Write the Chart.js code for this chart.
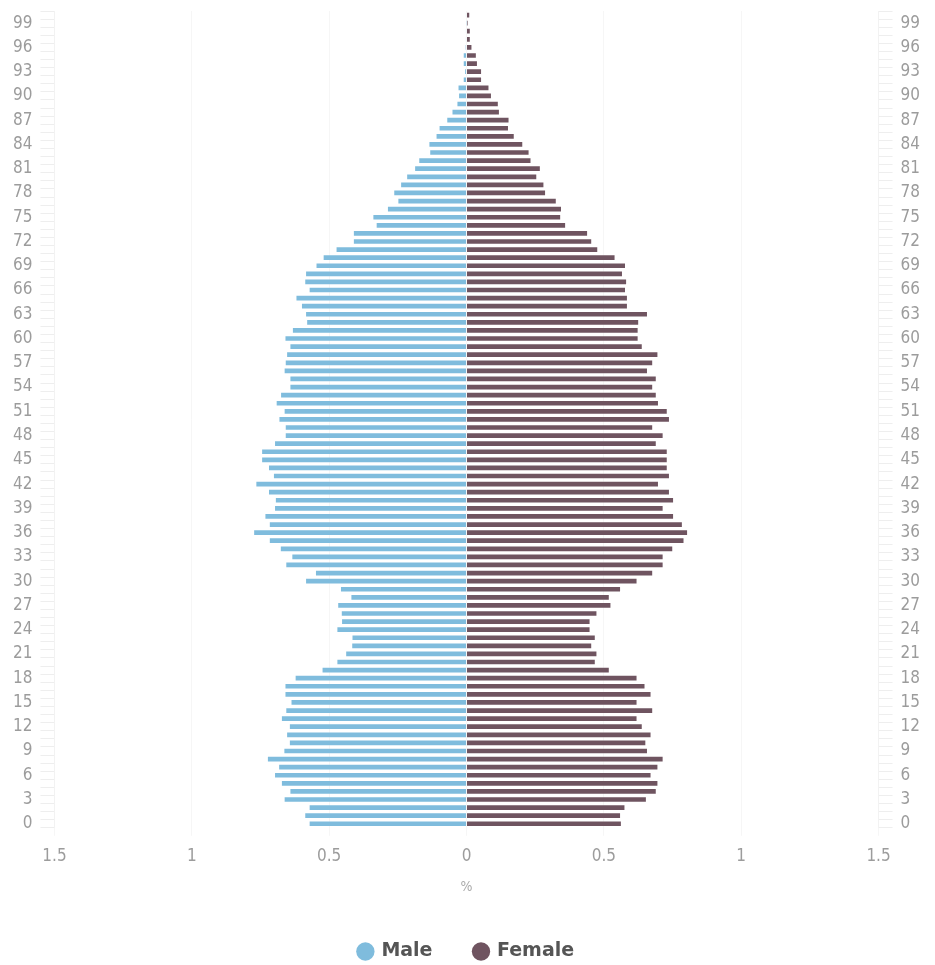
<!DOCTYPE html>
<html>
<head>
<meta charset="utf-8">
<title>Population pyramid</title>
<script src="https://cdn.jsdelivr.net/npm/chart.js@4.4.0/dist/chart.umd.min.js"></script>
<style>
  html, body { margin: 0; padding: 0; background: #fff; }
  #wrap { width: 935px; height: 965px; position: relative; }
</style>
</head>
<body>
<div id="wrap"><canvas id="pyramid"></canvas></div>
<script>
// ages 0..100, shown from bottom to top
const ages = Array.from({ length: 101 }, (_, i) => String(i));

// share of population in % (male drawn to the left)
const maleValues = [
  0.571, 0.587, 0.571, 0.662, 0.641, 0.672, 0.697, 0.682, 0.723, 0.663,
  0.643, 0.653, 0.643, 0.672, 0.656, 0.637, 0.659, 0.659, 0.622, 0.524,
  0.470, 0.438, 0.416, 0.415, 0.470, 0.453, 0.454, 0.467, 0.419, 0.457,
  0.584, 0.548, 0.656, 0.634, 0.676, 0.716, 0.773, 0.716, 0.732, 0.697,
  0.694, 0.719, 0.765, 0.701, 0.719, 0.744, 0.744, 0.697, 0.658, 0.658,
  0.681, 0.662, 0.691, 0.675, 0.641, 0.641, 0.662, 0.658, 0.653, 0.641,
  0.659, 0.632, 0.580, 0.584, 0.599, 0.619, 0.571, 0.587, 0.584, 0.546,
  0.520, 0.473, 0.410, 0.410, 0.327, 0.339, 0.286, 0.248, 0.263, 0.238,
  0.216, 0.187, 0.172, 0.132, 0.135, 0.109, 0.098, 0.070, 0.051, 0.033,
  0.027, 0.029, 0.010, 0.005, 0.010, 0.010, 0.003, 0.002, 0.002, 0.001,
  0.002
];

const femaleValues = [
  0.562, 0.559, 0.575, 0.653, 0.689, 0.695, 0.670, 0.695, 0.714, 0.657,
  0.651, 0.670, 0.638, 0.619, 0.676, 0.619, 0.670, 0.648, 0.619, 0.518,
  0.467, 0.473, 0.454, 0.467, 0.448, 0.448, 0.473, 0.524, 0.518, 0.559,
  0.619, 0.676, 0.714, 0.714, 0.749, 0.790, 0.803, 0.784, 0.752, 0.714,
  0.752, 0.737, 0.697, 0.737, 0.729, 0.729, 0.729, 0.689, 0.714, 0.676,
  0.737, 0.729, 0.697, 0.689, 0.676, 0.689, 0.657, 0.676, 0.695, 0.638,
  0.623, 0.623, 0.625, 0.657, 0.584, 0.584, 0.577, 0.581, 0.566, 0.577,
  0.539, 0.476, 0.454, 0.439, 0.359, 0.341, 0.344, 0.325, 0.286, 0.280,
  0.254, 0.267, 0.233, 0.226, 0.203, 0.172, 0.151, 0.153, 0.118, 0.114,
  0.089, 0.080, 0.053, 0.053, 0.038, 0.034, 0.018, 0.012, 0.012, 0.004,
  0.010
];

const xTicks = [-1.5, -1, -0.5, 0, 0.5, 1, 1.5];

const tickFont = { family: "'DejaVu Sans Condensed', 'DejaVu Sans'", size: 17 };
const tickColor = "#9c9c9c";

// every 3rd age gets a label
const ageLabel = function (value, index) {
  return index % 3 === 0 ? this.getLabelForValue(value) : "";
};

// the age axes should not push the plot down from the top
const noTopOverhang = (scale) => {
  scale.paddingTop = 0;
};

const ctx = document.getElementById("pyramid").getContext("2d");
new Chart(ctx, {
  type: "bar",
  data: {
    labels: ages,
    datasets: [
      {
        label: "Male",
        data: maleValues.map((v) => -v),
        backgroundColor: "#7fbcdd",
        barPercentage: 0.58,
        categoryPercentage: 1,
      },
      {
        label: "Female",
        data: femaleValues,
        backgroundColor: "#6f5460",
        barPercentage: 0.58,
        categoryPercentage: 1,
      },
    ],
  },
  options: {
    indexAxis: "y",
    responsive: true,
    maintainAspectRatio: false,
    animation: false,
    layout: { padding: { top: 11, left: 5, right: 7, bottom: -6 } },
    scales: {
      x: {
        stacked: true,
        min: -1.5,
        max: 1.5,
        afterBuildTicks: (axis) => {
          axis.ticks = xTicks.map((v) => ({ value: v }));
        },
        ticks: {
          font: tickFont,
          color: tickColor,
          padding: 11,
          callback: (v) => String(Math.abs(v)),
        },
        grid: { color: "rgba(0,0,0,0.035)", tickLength: 8 },
        border: { display: false },
        title: {
          display: true,
          text: "%",
          font: { family: "'DejaVu Sans Condensed', 'DejaVu Sans'", size: 14 },
          color: "#aaaaaa",
          padding: { top: 1, bottom: 4 },
        },
      },
      y: {
        stacked: true,
        reverse: true,
        position: "left",
        afterFit: noTopOverhang,
        ticks: {
          autoSkip: false,
          font: tickFont,
          color: tickColor,
          padding: 8,
          callback: ageLabel,
        },
        grid: { drawOnChartArea: false, color: "#eeeeee", tickLength: 14 },
        border: { color: "#f2f2f2" },
      },
      y2: {
        type: "category",
        reverse: true,
        position: "right",
        offset: true,
        afterFit: noTopOverhang,
        ticks: {
          autoSkip: false,
          font: tickFont,
          color: tickColor,
          padding: 8,
          callback: ageLabel,
        },
        grid: { drawOnChartArea: false, color: "#eeeeee", tickLength: 14 },
        border: { color: "#f2f2f2" },
      },
    },
    plugins: {
      legend: {
        position: "bottom",
        labels: {
          usePointStyle: true,
          pointStyle: "circle",
          boxWidth: 13,
          boxHeight: 13,
          padding: 42,
          color: "#555555",
          font: { family: "'DejaVu Sans'", size: 19, weight: "bold" },
        },
      },
      tooltip: { enabled: false },
    },
  },
});
</script>
</body>
</html>
